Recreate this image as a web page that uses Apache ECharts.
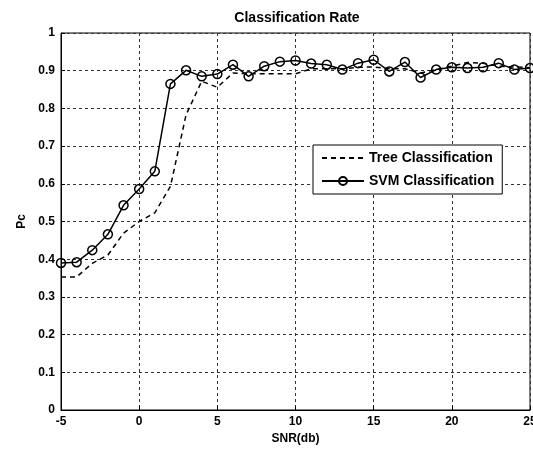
<!DOCTYPE html>
<html>
<head>
<meta charset="utf-8">
<script src="https://cdn.jsdelivr.net/npm/echarts@6/dist/echarts.min.js"></script>
<style>
  html, body { margin: 0; padding: 0; background: #fff; }
  #chart { width: 533px; height: 450px; }
</style>
</head>
<body>
<div id="chart"></div>
<script>
// SNR values in dB
const snr = [-5, -4, -3, -2, -1, 0, 1, 2, 3, 4, 5, 6, 7, 8, 9, 10, 11, 12, 13, 14, 15, 16, 17, 18, 19, 20, 21, 22, 23, 24, 25];

// Classification rate of the decision tree
const treeRate = [0.353, 0.353, 0.389, 0.411, 0.469, 0.500, 0.523, 0.593, 0.783, 0.872, 0.856, 0.894, 0.892, 0.892, 0.892, 0.892, 0.905, 0.905, 0.905, 0.909, 0.910, 0.905, 0.905, 0.894, 0.903, 0.912, 0.922, 0.920, 0.912, 0.910, 0.908];

// Classification rate of the SVM
const svmRate = [0.390, 0.392, 0.424, 0.466, 0.543, 0.586, 0.633, 0.865, 0.901, 0.885, 0.891, 0.916, 0.885, 0.912, 0.924, 0.927, 0.919, 0.916, 0.903, 0.920, 0.929, 0.898, 0.923, 0.882, 0.903, 0.909, 0.907, 0.909, 0.920, 0.903, 0.907];

const xTicks = { min: -5, max: 25, step: 5 };
const yTicks = { min: 0, max: 1, step: 0.1 };

const pairs = (xs, ys) => xs.map((x, i) => [x, ys[i]]);

const labelFont = { fontFamily: 'Liberation Sans, Arial, sans-serif', fontWeight: 'bold', fontSize: 12, color: '#000' };
const gridLine = { show: true, lineStyle: { color: '#333', type: [3, 3], width: 1 } };

const chart = echarts.init(document.getElementById('chart'), null, { renderer: 'canvas' });
chart.setOption({
  animation: false,
  backgroundColor: '#fff',
  title: {
    text: 'Classification Rate',
    left: 292, top: 6, textAlign: 'center',
    textStyle: { fontFamily: 'Liberation Sans, Arial, sans-serif', fontWeight: 'bold', fontSize: 14, color: '#000' }
  },
  grid: {
    left: 61, right: 3, top: 33, bottom: 40,
    outerBoundsMode: 'none',
    containLabel: false,
    show: true, borderColor: '#000', borderWidth: 1, backgroundColor: 'transparent'
  },
  legend: {
    orient: 'vertical',
    left: 313, top: 145,
    itemWidth: 42, itemHeight: 10, itemGap: 9,
    padding: [6, 8, 6, 8],
    backgroundColor: '#fff',
    borderColor: '#000', borderWidth: 1, borderRadius: 0,
    textStyle: { fontFamily: 'Liberation Sans, Arial, sans-serif', fontWeight: 'bold', fontSize: 14, color: '#000' },
    data: [
      { name: 'Tree Classification', itemStyle: { color: 'transparent', borderColor: 'transparent', borderWidth: 0 } },
      { name: 'SVM Classification' }
    ]
  },
  xAxis: {
    type: 'value',
    min: xTicks.min, max: xTicks.max, interval: xTicks.step,
    name: 'SNR(db)', nameLocation: 'middle', nameGap: 22,
    nameTextStyle: labelFont,
    axisLine: { show: true, onZero: false, lineStyle: { color: '#000' } },
    axisTick: { show: true, inside: true, length: 4, lineStyle: { color: '#000' } },
    axisLabel: Object.assign({ margin: 6 }, labelFont),
    splitLine: gridLine
  },
  yAxis: {
    type: 'value',
    min: yTicks.min, max: yTicks.max, interval: yTicks.step,
    name: 'Pc', nameLocation: 'middle', nameGap: 30,
    nameTextStyle: labelFont,
    axisLine: { show: true, onZero: false, lineStyle: { color: '#000' } },
    axisTick: { show: true, inside: true, length: 4, lineStyle: { color: '#000' } },
    axisLabel: Object.assign({ margin: 6 }, labelFont),
    splitLine: gridLine
  },
  series: [
    {
      name: 'Tree Classification',
      type: 'line',
      data: pairs(snr, treeRate),
      showSymbol: false,
      symbol: 'none',
      lineStyle: { color: '#000', width: 1.5, type: [5, 4] },
      itemStyle: { color: '#000' },
      z: 3
    },
    {
      name: 'SVM Classification',
      type: 'line',
      data: pairs(snr, svmRate),
      symbol: 'circle',
      symbolSize: 9,
      showSymbol: true,
      lineStyle: { color: '#000', width: 1.5 },
      itemStyle: { color: 'transparent', borderColor: '#000', borderWidth: 1.5 },
      z: 4
    }
  ]
});
</script>
</body>
</html>
